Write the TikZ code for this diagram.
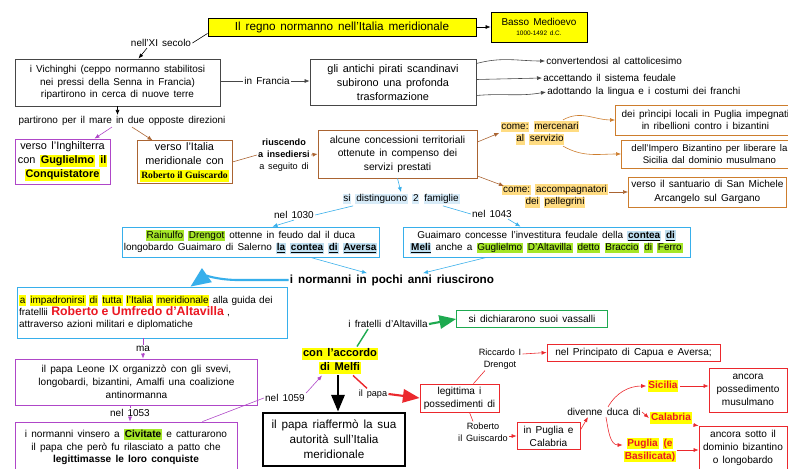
\documentclass[tikz,border=0pt]{standalone}
\usepackage{fontspec}
\setmainfont{Liberation Sans}[WordSpace=1.5]
\newfontfamily\serifbf{Liberation Serif}
\usepackage{xcolor}
\usetikzlibrary{arrows.meta, positioning, calc}
\definecolor{titleyellow}{RGB}{255,255,0}
\definecolor{boxgrey}{RGB}{70,70,70}
\definecolor{purplebd}{RGB}{175,70,200}
\definecolor{brownbd}{RGB}{170,100,50}
\definecolor{orangebd}{RGB}{205,125,45}
\definecolor{bluebd}{RGB}{55,175,235}
\definecolor{greenbd}{RGB}{30,170,80}
\definecolor{redbd}{RGB}{235,40,45}
\definecolor{hlyellow}{RGB}{255,255,0}
\definecolor{hlorange}{RGB}{255,220,130}
\definecolor{hlgreen}{RGB}{165,230,40}
\definecolor{hlsky}{RGB}{215,235,248}
\definecolor{hlblue}{RGB}{190,222,240}
\definecolor{redtxt}{RGB}{235,25,35}
\newcommand\fs{\fontsize{8.5}{10.6}\selectfont}
\newcommand\fss{\fontsize{7.8}{10}\selectfont}
\newcommand\fm{\fontsize{8.6}{11}\selectfont}
\newcommand\fl{\fontsize{9.3}{12}\selectfont}
\newcommand\hl[2]{{\setlength{\fboxsep}{0.7pt}\colorbox{#1}{\vphantom{Ag}#2}}}
\newcommand\ct[1]{\hl{hlblue}{\textbf{\underline{#1}}}}

\begin{document}
\begin{tikzpicture}[x=0.03cm, y=-0.03cm,
		box/.style={draw=#1, fill=white, align=center, inner sep=1.5pt, font=\fs, line width=0.7pt},
		box/.default=boxgrey,
		lbl/.style={align=center, inner sep=1pt, font=\fs},
		arrow/.style={-{Latex[length=1.5mm, width=1.2mm]}, draw=#1, line width=0.5pt},
		arrow/.default=black,
		link/.style={draw=#1, line width=0.5pt},
		link/.default=black,
		bigarrow/.style={-{Triangle[length=5mm, width=4mm]}, draw=#1, line width=1.8pt}
	]
		\useasboundingbox (0,0) rectangle (788,468);
		\clip (0,0) rectangle (788,468);
		\fill[white] (0,0) rectangle (788,468);

		% intestazione
		\node[box=black, fill=titleyellow, minimum width=8.04cm, minimum height=0.54cm, font=\fontsize{10}{11}\selectfont] (title) at (342,27) {Il regno normanno nell'Italia meridionale};
		\node[box=black, fill=titleyellow, minimum width=2.88cm, minimum height=0.9cm, font=\fontsize{8.5}{10}\selectfont] (basso) at (539,27) {Basso Medioevo\\[-2pt]{\fontsize{5.5}{6}\selectfont 1000-1492 d.C.}};
		\node[lbl] (secolo) at (161,43) {nell'XI secolo};
		\node[box, minimum width=6.15cm, minimum height=1.41cm] (vich) at (117.5,82.5) {i Vichinghi (ceppo normanno stabilitosi\\nei pressi della Senna in Francia)\\ripartirono in cerca di nuove terre};
		\node[lbl] (francia) at (267,81) {in Francia};
		\node[box, minimum width=4.98cm, minimum height=1.38cm, font=\fl] (pirati) at (393,82.5) {gli antichi pirati scandinavi\\subirono una profonda\\trasformazione};
		\node[lbl, anchor=west] (catt) at (545,61) {convertendosi al cattolicesimo};
		\node[lbl, anchor=west] (feud) at (542,78) {accettando il sistema feudale};
		\node[lbl, anchor=west] (franchi) at (546,92) {adottando la lingua e i costumi dei franchi};

		% le due direzioni
		\node[lbl] (direz) at (122,121) {partirono per il mare in due opposte direzioni};
		\node[box=purplebd, minimum width=2.85cm, minimum height=1.35cm, font=\fl] (ingh) at (62.5,161.5) {verso l'Inghilterra\\con \hl{hlyellow}{\textbf{Guglielmo}} \hl{hlyellow}{\textbf{il}}\\\hl{hlyellow}{\textbf{Conquistatore}}};
		\node[box=brownbd, minimum width=2.85cm, minimum height=1.2cm, font=\fl] (italia) at (184.5,162) {verso l'Italia\\meridionale con\\\hl{hlyellow}{\serifbf\bfseries\fontsize{8.2}{9}\selectfont Roberto il Guiscardo}};
		\node[lbl, font=\fss] (insed) at (284,155) {\textbf{riuscendo}\\\textbf{a insediersi}\\a seguito di};
		\node[box=brownbd, minimum width=4.77cm, minimum height=1.44cm, font=\fontsize{8.8}{11.5}\selectfont] (conc) at (397.5,154) {alcune concessioni territoriali\\ottenute in compenso dei\\servizi prestati};
		\node[lbl] (merc) at (540,133) {\hl{hlorange}{come:} \hl{hlorange}{mercenari}\\\hl{hlorange}{al} \hl{hlorange}{servizio}};
		\node[lbl] (pell) at (555,196) {\hl{hlorange}{come:} \hl{hlorange}{accompagnatori}\\\hl{hlorange}{dei} \hl{hlorange}{pellegrini}};
		\node[box=orangebd, anchor=west, minimum width=5.4cm, minimum height=0.9cm] (princ) at (615,120) {dei prìncipi locali in Puglia impegnati\\in ribellioni contro i bizantini};
		\node[box=orangebd, anchor=west, minimum width=5.28cm, minimum height=0.84cm, font=\fontsize{8.2}{10.6}\selectfont] (bizsic) at (621,154) {dell'Impero Bizantino per liberare la\\Sicilia dal dominio musulmano};
		\node[box=orangebd, anchor=west, minimum width=4.74cm, minimum height=0.9cm, font=\fontsize{8.6}{11.5}\selectfont] (santu) at (628,192) {verso il santuario di San Michele\\Arcangelo sul Gargano};

		% le famiglie
		\node[lbl] (famiglie) at (401,199) {\hl{hlsky}{si} \hl{hlsky}{distinguono} \hl{hlsky}{2} \hl{hlsky}{famiglie}};
		\node[lbl] (n1030) at (294,215) {nel 1030};
		\node[lbl] (n1043) at (492,214) {nel 1043};
		\node[box=bluebd, minimum width=7.71cm, minimum height=0.9cm] (drengot) at (250.5,242) {\hl{hlgreen}{Rainulfo} \hl{hlgreen}{Drengot} ottenne in feudo dal il duca\\longobardo Guaimaro di Salerno \ct{la} \ct{contea} \ct{di} \ct{Aversa}};
		\node[box=bluebd, minimum width=8.61cm, minimum height=0.9cm] (meli) at (546.5,242) {Guaimaro concesse l'investitura feudale della \ct{contea} \ct{di}\\\ct{Meli} anche a \hl{hlgreen}{Guglielmo} \hl{hlgreen}{D'Altavilla} \hl{hlgreen}{detto} \hl{hlgreen}{Braccio} \hl{hlgreen}{di} \hl{hlgreen}{Ferro}};
		\node[lbl, font=\bfseries\fontsize{10}{11}\selectfont] (pochi) at (392,280) {i normanni in pochi anni riuscirono};

		% la conquista
		\node[box=bluebd, text width=8.0cm, align=left, minimum height=1.53cm] (impad) at (152.5,312.5) {\hl{hlyellow}{a} \hl{hlyellow}{impadronirsi} \hl{hlyellow}{di} \hl{hlyellow}{tutta} \hl{hlyellow}{l'Italia} \hl{hlyellow}{meridionale} alla guida dei\\fratellii {\color{redtxt}\bfseries\fontsize{10.5}{12}\selectfont Roberto e Umfredo d'Altavilla} ,\\attraverso azioni militari e diplomatiche};
		\node[lbl] (ma) at (143,349) {ma};
		\node[box=purplebd, minimum width=7.26cm, minimum height=1.38cm, font=\fm] (leone) at (136.5,382) {il papa Leone IX organizzò con gli svevi,\\longobardi, bizantini, Amalfi una coalizione\\antinormanna};
		\node[lbl] (n1053) at (130,413) {nel 1053};
		\node[box=purplebd, minimum width=6.66cm, minimum height=1.5cm, font=\fm] (civit) at (126,447) {i normanni vinsero a \hl{hlgreen}{\textbf{Civitate}} e catturarono\\il papa che però fu rilasciato a patto che\\\textbf{legittimasse le loro conquiste}};
		\node[lbl] (n1059) at (285,398) {nel 1059};
		\node[lbl, font=\bfseries\fontsize{9.5}{12}\selectfont] (melfi) at (340,361) {\hl{hlyellow}{con l'accordo}\\\hl{hlyellow}{di Melfi}};
		\node[lbl] (fratelli) at (388,324) {i fratelli d'Altavilla};
		\node[box=greenbd, minimum width=4.53cm, minimum height=0.51cm, font=\fm] (vass) at (532,319) {si dichiararono suoi vassalli};
		\node[box=black, line width=2.5pt, minimum width=4.26cm, minimum height=1.59cm, font=\fontsize{10}{13}\selectfont] (riaff) at (334,439.5) {il papa riaffermò la sua\\autorità sull'Italia\\meridionale};
		\node[lbl, font=\fss] (papa) at (373,394) {il papa};
		\node[box=redbd, minimum width=2.37cm, minimum height=0.84cm, font=\fm] (legit) at (459.5,398) {legittima i\\possedimenti di};
		\node[lbl, font=\fss] (riccardo) at (500,359) {Riccardo I\\Drengot};
		\node[box=redbd, minimum width=5.19cm, minimum height=0.51cm, font=\fm] (capua) at (633.5,352.5) {nel Principato di Capua e Aversa;};
		\node[lbl, font=\fss] (guisc) at (483,432) {Roberto\\il Guiscardo};
		\node[box=redbd, minimum width=1.89cm, minimum height=0.81cm, font=\fm] (pugcal) at (548.5,436) {in Puglia e\\Calabria};
		\node[lbl, font=\fm] (duca) at (604,412) {divenne duca di};
		\node[lbl, text=redtxt, font=\bfseries\fm] (sicilia) at (663,386) {\hl{hlyellow}{Sicilia}};
		\node[lbl, text=redtxt, font=\bfseries\fm] (calabria) at (671,418) {\hl{hlyellow}{Calabria}};
		\node[lbl, text=redtxt, font=\bfseries\fm] (puglia) at (650,450) {\hl{hlyellow}{Puglia} \hl{hlyellow}{(e}\\\hl{hlyellow}{Basilicata)}};
		\node[box=redbd, minimum width=2.34cm, minimum height=1.32cm, font=\fm] (musul) at (748,390) {ancora\\possedimento\\musulmano};
		\node[box=redbd, minimum width=2.64cm, minimum height=1.32cm, font=\fm] (bizan) at (743,448) {ancora sotto il\\dominio bizantino\\o longobardo};

		% collegamenti
		\draw[arrow] (title) -- (basso);
		\draw[link] ($(title.south west)+(0,-3)$) -- (secolo.east);
		\draw[arrow] ($(secolo.south)+(-14,0)$) -- ($(vich.north)+(21,0)$);
		\draw[link=boxgrey] (vich.east |- francia) -- (francia);
		\draw[arrow=boxgrey] (francia) -- (pirati.west |- francia);
		\draw[arrow=boxgrey] ($(pirati.east)+(0,-19)$) to[out=15, in=180] (catt.west);
		\draw[arrow=boxgrey] ($(pirati.east)+(0,-3)$) -- (feud.west);
		\draw[arrow=boxgrey] ($(pirati.east)+(0,13)$) to[out=5, in=190] (franchi.west);
		\draw[arrow] (vich.south) -- (vich.south |- direz.north);
		\draw[arrow=purplebd] ($(direz.south)+(-10,0)$) -- ($(ingh.north)+(32,0)$);
		\draw[arrow=brownbd] ($(direz.south)+(10,0)$) -- ($(italia.north)+(-32,0)$);
		\draw[link=brownbd] (italia.east) -- (insed.west);
		\draw[arrow=brownbd] (insed.east) -- (conc.west);
		\draw[arrow=brownbd] ($(conc.east)+(0,-12)$) -- (merc.west);
		\draw[arrow=brownbd] ($(conc.east)+(0,22)$) -- ($(pell.north west)+(3,3)$);
		\draw[arrow=orangebd] ($(merc.north)+(23,0)$) to[out=30, in=180] (princ.west);
		\draw[arrow=orangebd] ($(merc.south)+(23,0)$) to[out=-30, in=180] (bizsic.west);
		\draw[arrow=brownbd] (pell.east |- santu) -- (santu.west);
		\draw[arrow=bluebd] (conc.south) -- (famiglie.north);
		\draw[link=bluebd] ($(famiglie.south west)+(12,0)$) -- (n1030.east);
		\draw[arrow=bluebd] (n1030.south) -- ($(drengot.north)+(22,0)$);
		\draw[link=bluebd] ($(famiglie.south east)+(-18,0)$) -- (n1043.west);
		\draw[arrow=bluebd] ($(n1043.south)+(16,0)$) -- ($(meli.north)+(-26,0)$);
		\draw[arrow=bluebd] ($(drengot.south)+(60,0)$) -- ($(pochi.north)+(-25,0)$);
		\draw[arrow=bluebd] ($(meli.south)+(-60,0)$) -- ($(pochi.north)+(31,0)$);
		\draw[bigarrow=bluebd, -{Triangle[length=6mm, width=5mm]}] (pochi.west) -- ++(-50,0) to[out=180, in=35] ($(impad.north)+(38,0)$);
		\draw[link=purplebd] (impad.south -| ma) -- (ma);
		\draw[arrow=purplebd] (ma) -- (leone.north -| ma);
		\draw[link=purplebd] (leone.south -| n1053) -- (n1053);
		\draw[arrow=purplebd] (n1053) -- (civit.north -| n1053);
		\draw[link=purplebd] ($(civit.north east)+(-35,0)$) -- (n1059.west);
		\draw[arrow=purplebd] (n1059.north east) -- ($(melfi.south)+(-18,0)$);
		\draw[link=greenbd, line width=1.2pt] ($(melfi.north)+(17,0)$) -- ($(fratelli.south)+(-20,0)$);
		\draw[bigarrow=greenbd] (fratelli.east) -- (vass.west);
		\draw[bigarrow=black] ($(melfi.south)+(-2,0)$) -- ($(riaff.north)+(4,0)$);
		\draw[link=redbd, line width=1.2pt] ($(melfi.south)+(13,0)$) -- ($(papa.north)+(-6,0)$);
		\draw[bigarrow=redbd] (papa.east) -- (legit.west);
		\draw[link=redbd] ($(legit.north)+(14,0)$) -- ($(riccardo.south)+(-15,0)$);
		\draw[arrow=redbd] ($(riccardo.east)+(0,-5)$) -- (capua.west);
		\draw[link=redbd] ($(legit.south)+(10,0)$) -- ($(guisc.north)+(-10,0)$);
		\draw[arrow=redbd] (guisc.east |- pugcal) -- (pugcal.west);
		\draw[arrow=redbd] ($(pugcal.east)+(0,-6)$) -- ($(duca.south west)+(22,0)$);
		\draw[arrow=redbd] ($(duca.north)+(4,0)$) to[out=60, in=180] (sicilia.west);
		\draw[arrow=redbd] (duca.east) -- (calabria.west);
		\draw[arrow=redbd] ($(duca.south)+(2,0)$) to[out=-80, in=180] ($(puglia.west)+(0,-5)$);
		\draw[arrow=redbd] (sicilia.east) -- (musul.west |- sicilia);
		\draw[arrow=redbd] (calabria.south east) -- (bizan.north west);
		\draw[arrow=redbd] (puglia.east) -- (bizan.west |- puglia.east);
	\end{tikzpicture}
\end{document}
